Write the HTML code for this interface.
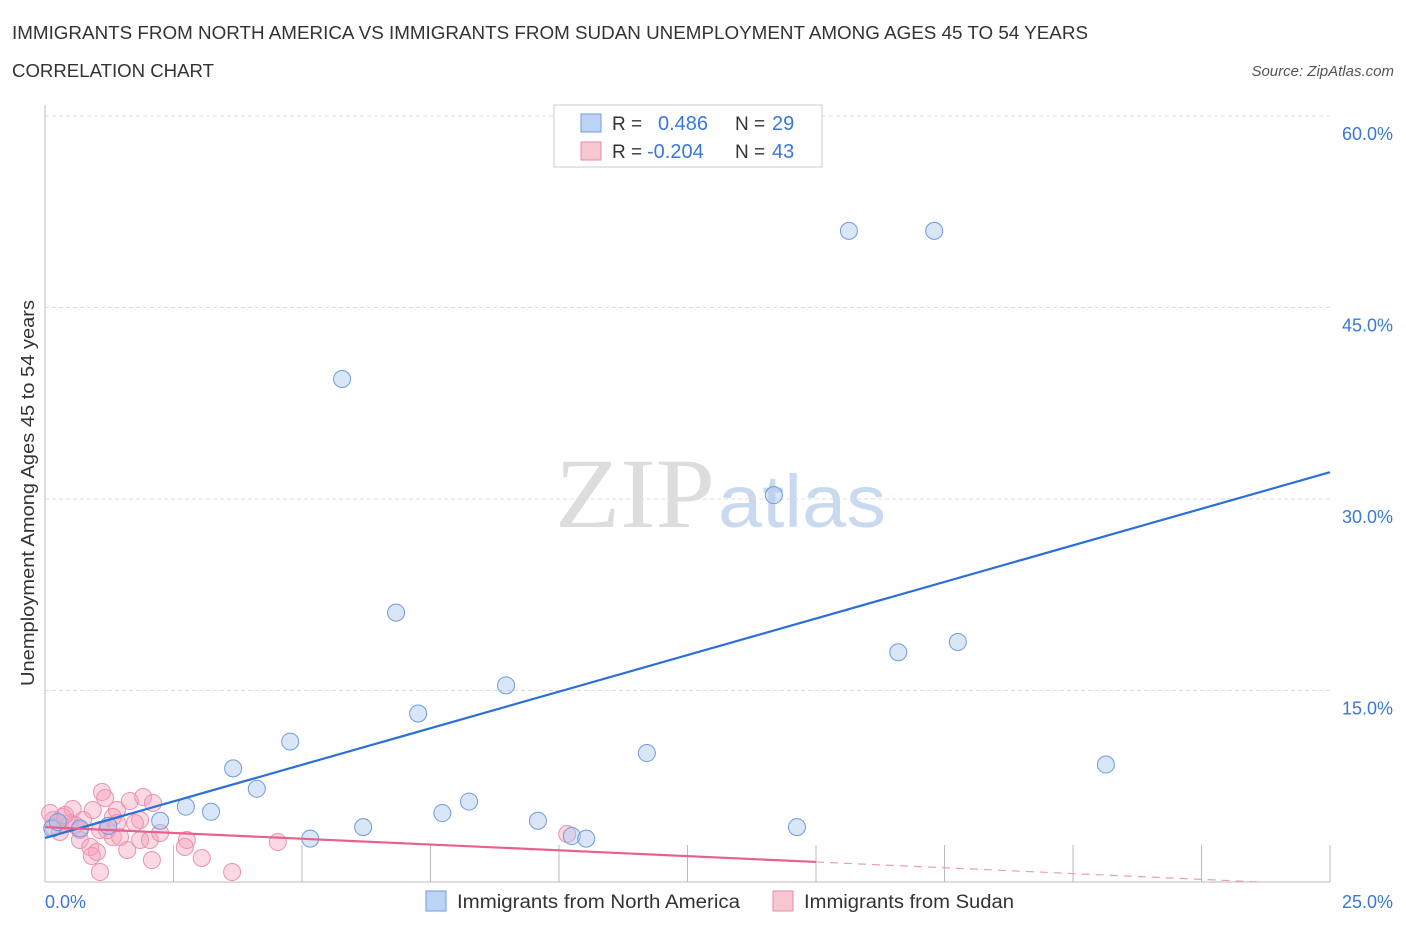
<!DOCTYPE html>
<html><head><meta charset="utf-8"><style>
body{margin:0;background:#fff;font-family:"Liberation Sans",sans-serif;}
</style></head><body>
<svg width="1406" height="930" xmlns="http://www.w3.org/2000/svg" font-family="Liberation Sans, sans-serif">
<text x="12" y="39" font-size="18" fill="#333" textLength="1076" lengthAdjust="spacingAndGlyphs">IMMIGRANTS FROM NORTH AMERICA VS IMMIGRANTS FROM SUDAN UNEMPLOYMENT AMONG AGES 45 TO 54 YEARS</text>
<text x="12" y="77" font-size="18" fill="#333" textLength="202" lengthAdjust="spacingAndGlyphs">CORRELATION CHART</text>
<text x="1394" y="76" font-size="15" fill="#555" font-style="italic" text-anchor="end">Source: ZipAtlas.com</text>
<text x="555" y="527" font-size="100" fill="#ddd" font-family="Liberation Serif, serif" textLength="160" lengthAdjust="spacingAndGlyphs">ZIP</text>
<text x="718" y="527" font-size="74" fill="#c9daf0" textLength="168" lengthAdjust="spacingAndGlyphs">atlas</text>
<g id="grid"></g>
<g id="axes"></g>
<text transform="translate(34,493) rotate(-90)" font-size="18" fill="#333" text-anchor="middle" textLength="386" lengthAdjust="spacingAndGlyphs">Unemployment Among Ages 45 to 54 years</text>
<g id="marks"></g>
<g>
<rect x="554" y="105" width="268" height="62" fill="#fff" stroke="#ccc"/>
<rect x="581" y="114" width="20" height="18" fill="#bcd4f5" stroke="#6f9be0"/>
<text x="612" y="130" font-size="19" fill="#333">R = </text><text x="658" y="130" font-size="20" fill="#3a78d8">0.486</text>
<text x="735" y="130" font-size="19" fill="#333">N = </text><text x="772" y="130" font-size="20" fill="#3a78d8">29</text>
<rect x="581" y="142" width="20" height="18" fill="#f9c6d4" stroke="#e88aa6"/>
<text x="612" y="158" font-size="19" fill="#333">R = </text><text x="647" y="158" font-size="20" fill="#3a78d8">-0.204</text>
<text x="735" y="158" font-size="19" fill="#333">N = </text><text x="772" y="158" font-size="20" fill="#3a78d8">43</text>
</g>
<g>
<rect x="426" y="891" width="20" height="20" fill="#bcd4f5" stroke="#6f9be0"/>
<text x="457" y="908" font-size="19" fill="#333" textLength="283" lengthAdjust="spacingAndGlyphs">Immigrants from North America</text>
<rect x="773" y="891" width="20" height="20" fill="#f9c6d4" stroke="#e88aa6"/>
<text x="804" y="908" font-size="19" fill="#333" textLength="210" lengthAdjust="spacingAndGlyphs">Immigrants from Sudan</text>
</g>
</svg>
<script>
const yTicks=[15,30,45,60];
const yTickLabels=["15.0%","30.0%","45.0%","60.0%"];
const xTickVals=[2.5,5,7.5,10,12.5,15,17.5,20,22.5,25];
const blueX=[0.14,0.68,1.23,2.24,2.74,3.23,3.66,4.12,4.77,5.16,5.78,6.19,6.83,7.26,7.73,8.25,8.97,9.59,10.25,10.53,11.71,14.18,14.63,15.64,16.6,17.3,17.76,20.64,0.25];
const blueY=[4.2,4.2,4.4,4.8,5.9,5.5,8.9,7.3,11.0,3.4,39.4,4.3,21.1,13.2,5.4,6.3,15.4,4.8,3.6,3.4,10.1,30.3,4.3,51.0,18.0,51.0,18.8,9.2,4.7];
const pinkX=[1.11,1.17,0.54,0.93,1.40,1.65,1.91,2.10,1.32,1.85,0.16,0.35,0.74,1.07,1.32,0.68,0.88,1.01,0.91,1.60,1.85,2.04,2.24,1.75,2.08,1.07,2.76,2.72,3.05,3.64,4.53,0.16,0.29,0.49,0.10,0.68,1.21,1.40,0.29,1.46,10.16,0.58,0.39];
const pinkY=[7.05,6.58,5.72,5.64,5.64,6.34,6.66,6.19,5.09,4.86,4.86,5.09,4.86,4.07,3.52,3.29,2.74,2.35,2.04,2.51,3.29,3.29,3.84,4.62,1.72,0.78,3.29,2.74,1.88,0.78,3.13,4.31,4.62,4.62,5.40,4.07,4.07,4.62,3.92,3.52,3.76,4.46,5.25];
const blueTrend=[3.45,32.1];
const pinkTrend=[4.3,1.57];
const NS="http://www.w3.org/2000/svg";
const X=v=>45+v/25*1285, Y=v=>882-v/60*766;
function mk(t,a,p){const e=document.createElementNS(NS,t);for(const k in a)e.setAttribute(k,a[k]);p.appendChild(e);return e;}
const grid=document.getElementById('grid'),axes=document.getElementById('axes'),marks=document.getElementById('marks');
yTicks.forEach((v,i)=>{
 const l=mk('line',{x1:45,x2:1330,y1:Y(v),y2:Y(v),stroke:'#ddd','stroke-dasharray':'4,3'},grid);
 
 
 const t=mk('text',{x:1393,y:Y(v)+24,'font-size':18,fill:'#3a78d8','text-anchor':'end'},axes);
 t.textContent=yTickLabels[i];
 
 
});
const ax=mk('line',{x1:45,x2:45,y1:105,y2:882,stroke:'#bbb'},axes);


const bx=mk('line',{x1:45,x2:1330,y1:882,y2:882,stroke:'#bbb'},axes);


xTickVals.forEach(v=>{
 const t=mk('line',{x1:X(v),x2:X(v),y1:845,y2:882,stroke:'#bbb'},axes);
 
 
});
const x0=mk('text',{x:45,y:908,'font-size':18,fill:'#3a78d8'},axes);x0.textContent='0.0%';


const x1=mk('text',{x:1393,y:908,'font-size':18,fill:'#3a78d8','text-anchor':'end'},axes);x1.textContent='25.0%';


pinkX.forEach((v,i)=>{
 const c=mk('circle',{cx:X(v),cy:Y(pinkY[i]),r:8.5,fill:'rgba(245,160,185,0.4)',stroke:'#eb92ad','stroke-width':1},marks);
 
 
});
blueX.forEach((v,i)=>{
 const c=mk('circle',{cx:X(v),cy:Y(blueY[i]),r:8.5,fill:'rgba(170,200,240,0.45)',stroke:'#6f9be0','stroke-width':1},marks);
 
 
});
const bl=mk('line',{x1:X(0),y1:Y(blueTrend[0]),x2:X(25),y2:Y(blueTrend[1]),stroke:'#2c6fd6','stroke-width':2.2},marks);


const ps=(pinkTrend[1]-pinkTrend[0])/15;
const pl=mk('line',{x1:X(0),y1:Y(pinkTrend[0]),x2:X(15),y2:Y(pinkTrend[1]),stroke:'#e8608c','stroke-width':2.2},marks);


const xz=-pinkTrend[0]/ps;
const pd=mk('line',{x1:X(15),y1:Y(pinkTrend[1]),x2:X(Math.min(25,xz)),y2:Y(Math.max(0,pinkTrend[0]+ps*25)),stroke:'#e8a0b6','stroke-width':1.2,'stroke-dasharray':'8,6'},marks);


</script>
</body></html>
